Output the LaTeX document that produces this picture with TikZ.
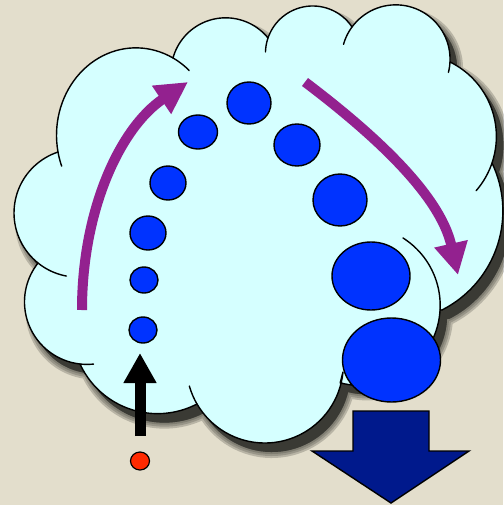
\documentclass[tikz,border=0pt]{standalone}
\usetikzlibrary{arrows.meta}
\definecolor{bgc}{HTML}{E3DECC}
\definecolor{cloudc}{HTML}{D5FFFF}
\definecolor{dotc}{HTML}{0033FF}
\definecolor{purp}{HTML}{93218F}
\definecolor{navy}{HTML}{00198C}
\definecolor{redc}{HTML}{FF2A00}
\definecolor{shadowc}{HTML}{3A3A34}
\tikzset{
  outline/.style={draw=black, line width=1.4pt, line join=round},
  dot/.style={fill=dotc, draw=black, line width=1.4pt},
  stub/.style={draw=black, line width=1.4pt, line cap=round},
  purparrow/.style={draw=purp, line width=10pt, -{Triangle[length=32pt,width=32pt]}},
}
\let\qvar\relax
% circle (ellipse with aspect #2) through three pixel points
\newcommand\defcirc[8]{%
 \pgfmathsetmacro\qk{#2}%
 \pgfmathsetmacro\qxa{#3/100}\pgfmathsetmacro\qya{#4/100/\qk}%
 \pgfmathsetmacro\qxb{#5/100}\pgfmathsetmacro\qyb{#6/100/\qk}%
 \pgfmathsetmacro\qxc{#7/100}\pgfmathsetmacro\qyc{#8/100/\qk}%
 \pgfmathsetmacro\qsa{\qxa*\qxa+\qya*\qya}%
 \pgfmathsetmacro\qsb{\qxb*\qxb+\qyb*\qyb}%
 \pgfmathsetmacro\qsc{\qxc*\qxc+\qyc*\qyc}%
 \pgfmathsetmacro\qd{2*(\qxa*(\qyb-\qyc)+\qxb*(\qyc-\qya)+\qxc*(\qya-\qyb))}%
 \pgfmathsetmacro\qux{(\qsa*(\qyb-\qyc)+\qsb*(\qyc-\qya)+\qsc*(\qya-\qyb))/\qd}%
 \pgfmathsetmacro\quy{(\qsa*(\qxc-\qxb)+\qsb*(\qxa-\qxc)+\qsc*(\qxb-\qxa))/\qd}%
 \pgfmathsetmacro\qr{sqrt((\qxa-\qux)*(\qxa-\qux)+(\qya-\quy)*(\qya-\quy))}%
 \expandafter\xdef\csname c@#1@ux\endcsname{\qux}%
 \expandafter\xdef\csname c@#1@uy\endcsname{\quy}%
 \expandafter\xdef\csname c@#1@r\endcsname{\qr}%
 \expandafter\xdef\csname c@#1@k\endcsname{\qk}%
}
% arc of circle #2 from the angle of point (#3,#4) to that of (#5,#6), clockwise on screen
\newcommand\defarc[6]{%
 \edef\qux{\csname c@#2@ux\endcsname}\edef\quy{\csname c@#2@uy\endcsname}%
 \edef\qr{\csname c@#2@r\endcsname}\edef\qk{\csname c@#2@k\endcsname}%
 \pgfmathsetmacro\qas{atan2(#4/100/\qk-\quy,#3/100-\qux)}%
 \pgfmathsetmacro\qae{atan2(#6/100/\qk-\quy,#5/100-\qux)}%
 \pgfmathsetmacro\qae{\qae<\qas ? \qae+360 : \qae}%
 \pgfmathsetmacro\qcx{100*\qux}\pgfmathsetmacro\qcy{100*\qk*\quy}%
 \pgfmathsetmacro\qrx{100*\qr}\pgfmathsetmacro\qry{100*\qk*\qr}%
 \expandafter\xdef\csname a@#1\endcsname{plot[domain=\qas:\qae,samples=40,variable=\noexpand\qvar] ({\qcx+\qrx*cos(\noexpand\qvar)},{\qcy+\qry*sin(\noexpand\qvar)})}%
}
\def\seg#1{\csname a@#1\endcsname}
% bumps
\defcirc{la}{1}{38}{263}{14}{212}{58}{152}
\defcirc{ba}{1.1}{58}{152}{94}{61}{173}{58}
\defcirc{bi}{1}{173}{58}{230}{18}{268}{38}
\defcirc{bh}{1}{268}{38}{313}{6}{352}{27}
\defcirc{bg}{1}{352}{27}{400}{5}{450}{62}
\defcirc{bf}{1}{450}{62}{493}{113}{492}{163}
\defcirc{be}{1}{492}{163}{502}{225}{442}{310}
\defcirc{bd}{1}{403}{238}{440}{300}{352}{385}
\defcirc{bc}{1}{197}{404}{267}{443}{343}{372}
\defcirc{bb}{1}{80}{364}{127}{408}{197}{404}
\defcirc{lb}{1}{80}{364}{25}{310}{38}{263}
\defarc{la}{la}{38}{263}{58}{152}
\defarc{ba}{ba}{58}{152}{173}{58}
\defarc{bi}{bi}{173}{58}{268}{38}
\defarc{bh}{bh}{268}{38}{352}{27}
\defarc{bg}{bg}{352}{27}{450}{62}
\defarc{bf}{bf}{450}{62}{492}{163}
\defarc{be}{be}{492}{163}{442}{310}
\defarc{bd}{bd}{442}{310}{343}{372}
\defarc{bc}{bc}{343}{372}{197}{404}
\defarc{bb}{bb}{197}{404}{80}{364}
\defarc{lb}{lb}{80}{364}{38}{263}
% stubs
\defarc{sa}{ba}{62}{166}{58}{152}
\defarc{sb}{ba}{173}{58}{188}{72}
\defarc{sc}{bh}{266}{52}{268}{38}
\defarc{sd}{bg}{346}{45}{352}{27}
\defarc{se}{bg}{450}{62}{451}{73}
\defarc{sf}{bf}{492}{163}{473}{188}
\defarc{sg}{bd}{403}{238}{442}{310}
\defarc{sh}{la}{67}{273}{38}{263}
\defarc{si}{lb}{93}{359}{80}{364}
\defarc{sj}{bc}{197}{404}{193}{385}
\xdef\cloudpath{\seg{la} -- \seg{ba} -- \seg{bi} -- \seg{bh} -- \seg{bg} -- \seg{bf} -- \seg{be} -- \seg{bd} -- \seg{bc} -- \seg{bb} -- \seg{lb} -- cycle}
\xdef\stubpath{\seg{sa} \seg{sb} \seg{sc} \seg{sd} \seg{se} \seg{sf} \seg{sg} \seg{sh} \seg{si} \seg{sj}}
\begin{document}
\begin{tikzpicture}[x=1pt,y=-1pt]
\useasboundingbox (0,0) rectangle (503,505);
\fill[bgc] (0,0) rectangle (503,505);
% shadow
\begin{scope}[shift={(7,9)}]
  \foreach \w in {12,8,4}{
    \filldraw[shadowc, opacity=0.25, line width=\w pt, line join=round] \cloudpath;
  }
  \fill[shadowc] \cloudpath;
\end{scope}
% cloud
\fill[cloudc] \cloudpath;
\path[outline] \cloudpath;
\path[stub] \stubpath;
% dots
\path[dot] (143,330) ellipse [x radius=14, y radius=13];
\path[dot] (144,280) ellipse [x radius=14, y radius=13];
\path[dot] (148,233) ellipse [x radius=18, y radius=17];
\path[dot] (168,183) ellipse [x radius=18, y radius=17];
\path[dot] (198,132) ellipse [x radius=19.5, y radius=17];
\path[dot] (249,103) ellipse [x radius=22, y radius=21];
\path[dot] (297,145) ellipse [x radius=23, y radius=21];
\path[dot] (340,200) ellipse [x radius=27, y radius=26];
\path[dot] (371,276) ellipse [x radius=39, y radius=34];
\path[dot] (391.5,360) ellipse [x radius=49, y radius=42];
% red dot
\path[fill=redc, draw=black, line width=1.2pt] (140,461) ellipse [x radius=9.5, y radius=9];
% black arrow
\coordinate (bs) at (140,436);
\coordinate (bt) at (140,353);
\draw[line width=11pt, -{Triangle[length=30pt,width=31pt]}] (bs) -- (bt);
% purple arrows
\coordinate (p1s) at (82,310);
\coordinate (p1e) at (188,82);
\draw[purparrow] (p1s) .. controls (82,210) and (120,128) .. (p1e);
\coordinate (p2s) at (305,82);
\coordinate (p2e) at (458,275);
\draw[purparrow] (p2s) .. controls (375,135) and (440,195) .. (p2e);
% big down arrow
\path[fill=navy, draw=black, line width=1.4pt, line join=miter]
  (353,411) -- (429,411) -- (429,451) -- (469,451) -- (391,503) -- (312,451) -- (353,451) -- cycle;
\end{tikzpicture}
\end{document}
